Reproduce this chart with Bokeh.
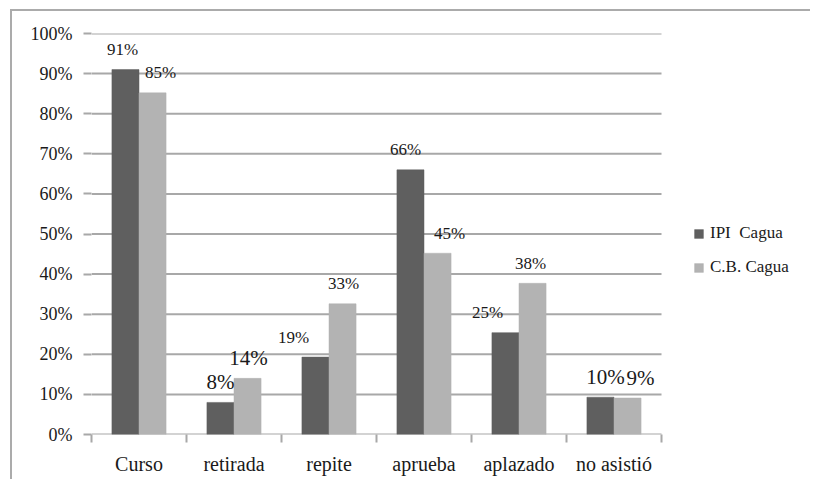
from bokeh.plotting import figure
from bokeh.models import (ColumnDataSource, FixedTicker, Legend, LegendItem,
                          NumeralTickFormatter, Range1d, LinearAxis)
from bokeh.core.properties import value
from bokeh.embed import file_html
from bokeh.resources import INLINE

categories = ["Curso", "retirada", "repite", "aprueba", "aplazado", "no asistió"]
series_names = ["IPI  Cagua", "C.B. Cagua"]
ipi_values = [0.91, 0.08, 0.193, 0.66, 0.254, 0.093]
cb_values = [0.852, 0.14, 0.326, 0.452, 0.377, 0.091]
ipi_labels = ["91%", "8%", "19%", "66%", "25%", "10%"]
cb_labels = ["85%", "14%", "33%", "45%", "38%", "9%"]
y_ticks = [0, 0.1, 0.2, 0.3, 0.4, 0.5, 0.6, 0.7, 0.8, 0.9, 1.0]

# label nudges (screen px) and sizes, as in the reference
ipi_dx = [-3, 0, -22, -5, -18, 5]
cb_dx = [8, 1, 1, 12, -2, 13]
ipi_fs = ["17px", "21px", "17px", "17px", "17px", "21px"]
cb_fs = ["17px", "21px", "17px", "17px", "17px", "21px"]

DARK = "#5f5f5f"
LIGHT = "#b3b3b3"
GRID = "#a8a8a8"
FONT = "Liberation Serif"
BW = 0.285

n = len(categories)
centers = [i + 0.5 for i in range(n)]
x_ipi = [c - BW / 2 for c in centers]
x_cb = [c + BW / 2 for c in centers]

# layout (pixels): plot area for the categories is 570 px wide; the frame
# extends to the right edge so that the legend is not clipped
W, H = 800, 470
LEFT, TOP, BOTTOM = 79, 22, 47
CAT_PX = 570 / n
frame_w = W - LEFT
x_end = frame_w / CAT_PX

p = figure(width=W, height=H, output_backend="svg", toolbar_location=None,
           x_range=Range1d(0, x_end), y_range=Range1d(0, 1.0),
           min_border_left=LEFT, min_border_top=TOP, min_border_bottom=BOTTOM,
           min_border_right=0, x_axis_type=None)
p.styles = {"margin-left": "10px", "margin-top": "9px",
            "border-left": "2px solid #ababab", "border-top": "2px solid #ababab"}
p.outline_line_color = None
p.background_fill_color = "white"
p.border_fill_color = "white"

# horizontal gridlines across the category area only
p.segment(x0=[0] * len(y_ticks), x1=[n] * len(y_ticks), y0=y_ticks, y1=y_ticks,
          line_color=GRID, line_width=2)

src_ipi = ColumnDataSource(dict(x=x_ipi, top=ipi_values, lab=ipi_labels, dx=ipi_dx, fs=ipi_fs))
src_cb = ColumnDataSource(dict(x=x_cb, top=cb_values, lab=cb_labels, dx=cb_dx, fs=cb_fs))

r1 = p.vbar(x="x", top="top", width=BW, bottom=0, source=src_ipi,
            fill_color=DARK, line_color=DARK, line_width=0.5)
r2 = p.vbar(x="x", top="top", width=BW, bottom=0, source=src_cb,
            fill_color=LIGHT, line_color=LIGHT, line_width=0.5)

for src in (src_ipi, src_cb):
    p.text(x="x", y="top", text="lab", source=src, x_offset="dx", y_offset=-20,
           text_align="center", text_baseline="middle",
           text_font=value(FONT), text_font_size="fs", text_color="#1a1a1a")

# y axis
yax = p.yaxis[0]
yax.ticker = FixedTicker(ticks=y_ticks)
yax.formatter = NumeralTickFormatter(format="0%")
yax.axis_line_color = None
yax.major_tick_line_color = GRID
yax.major_tick_line_width = 2
yax.major_tick_out = 8
yax.major_tick_in = 0
yax.minor_tick_line_color = None
yax.major_label_standoff = 11
yax.major_label_text_font = FONT
yax.major_label_text_font_size = "18px"
yax.major_label_text_color = "#1a1a1a"

p.ygrid.grid_line_color = None
p.xgrid.grid_line_color = None

# x axis: ticks at category boundaries, labels at centers
xax = LinearAxis()
xax.ticker = FixedTicker(ticks=centers, minor_ticks=list(range(n + 1)))
xax.major_label_overrides = {c: lab for c, lab in zip(centers, categories)}
xax.major_tick_line_color = None
xax.minor_tick_line_color = GRID
xax.minor_tick_line_width = 2
xax.minor_tick_out = 8
xax.minor_tick_in = 0
xax.axis_line_color = None
xax.major_label_standoff = 10
xax.major_label_text_font = FONT
xax.major_label_text_font_size = "20px"
xax.major_label_text_color = "#1a1a1a"
p.add_layout(xax, "below")

legend = Legend(items=[LegendItem(label=series_names[0], renderers=[r1]),
                       LegendItem(label=series_names[1], renderers=[r2])],
                location=(602, 157), orientation="vertical")
legend.glyph_width = 11
legend.glyph_height = 11
legend.label_height = 20
legend.spacing = 14
legend.label_standoff = 6
legend.padding = 10
legend.margin = 0
legend.border_line_color = None
legend.background_fill_alpha = 0
legend.label_text_font = FONT
legend.label_text_font_size = "17px"
legend.label_text_color = "#1a1a1a"
p.add_layout(legend, "center")

open("out.html", "w").write(file_html(p, INLINE))
